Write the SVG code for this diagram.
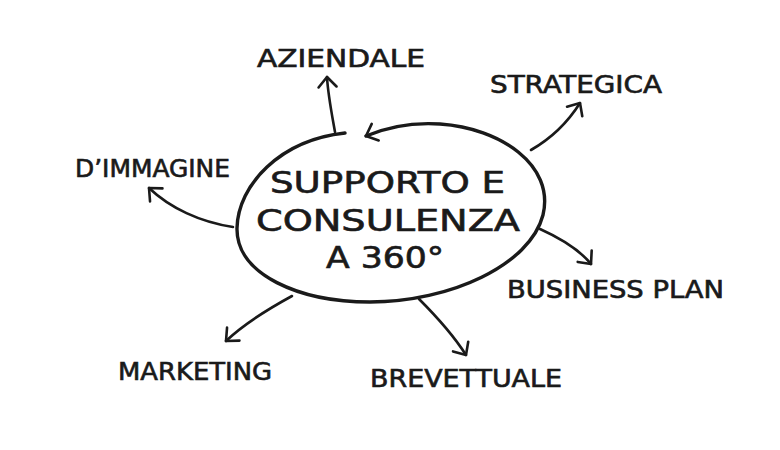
<svg xmlns="http://www.w3.org/2000/svg" width="780" height="450" viewBox="0 0 780 450">
<defs>
<style>
.lbl{font-family:"DejaVu Sans Condensed","DejaVu Sans","Liberation Sans",sans-serif;fill:#1a1a1a;stroke:#1a1a1a;stroke-width:0.6;}
.big{font-size:31px;}
.sm{font-size:25px;}
.ln{fill:none;stroke:#1a1a1a;stroke-width:2.6;stroke-linecap:round;stroke-linejoin:round;}
</style>
<marker id="ah" markerUnits="userSpaceOnUse" markerWidth="24" markerHeight="24" refX="12" refY="12" orient="auto" viewBox="0 0 24 24">
<path d="M2,3 L12,12 L2,21" fill="none" stroke="#1a1a1a" stroke-width="2.6" stroke-linecap="round" stroke-linejoin="round"/>
</marker>
</defs>
<rect width="780" height="450" fill="#ffffff"/>
<g id="center">
<path class="ln" style="stroke-width:3.4" marker-end="url(#ah)" d="M345,133 C280,140 238,185 237,228 C236,275 300,302 370,302 C450,302 530,265 543,215 C555,165 500,128 440,124 C410,122 385,128 366,136"/>
<text class="lbl big" x="270" y="193" textLength="235" lengthAdjust="spacingAndGlyphs">SUPPORTO E</text>
<text class="lbl big" x="256" y="231" textLength="264" lengthAdjust="spacingAndGlyphs">CONSULENZA</text>
<text class="lbl big" x="326" y="268" textLength="118" lengthAdjust="spacingAndGlyphs">A 360°</text>
</g>
<g id="aziendale"><text class="lbl sm" x="257" y="67" textLength="168" lengthAdjust="spacingAndGlyphs">AZIENDALE</text></g>
<g id="strategica"><text class="lbl sm" x="490" y="93" textLength="172" lengthAdjust="spacingAndGlyphs">STRATEGICA</text></g>
<g id="dimmagine"><text class="lbl sm" x="75" y="177" textLength="155" lengthAdjust="spacingAndGlyphs">D’IMMAGINE</text></g>
<g id="businessplan"><text class="lbl sm" x="507" y="298" textLength="217" lengthAdjust="spacingAndGlyphs">BUSINESS PLAN</text></g>
<g id="marketing"><text class="lbl sm" x="118" y="380" textLength="154" lengthAdjust="spacingAndGlyphs">MARKETING</text></g>
<g id="brevettuale"><text class="lbl sm" x="370" y="387" textLength="192" lengthAdjust="spacingAndGlyphs">BREVETTUALE</text></g>
<g id="connectors">
<path class="ln" marker-end="url(#ah)" d="M335,132 C332,115 328,95 327,77"/>
<path class="ln" marker-end="url(#ah)" d="M531,150 C552,138 568,122 580,103"/>
<path class="ln" marker-end="url(#ah)" d="M233,227 C200,222 170,208 149,188"/>
<path class="ln" marker-end="url(#ah)" d="M540,229 C560,238 578,248 591,264"/>
<path class="ln" marker-end="url(#ah)" d="M292,296 C270,308 246,322 226,341"/>
<path class="ln" marker-end="url(#ah)" d="M419,299 C435,315 452,333 466,355"/>
</g>
</svg>
